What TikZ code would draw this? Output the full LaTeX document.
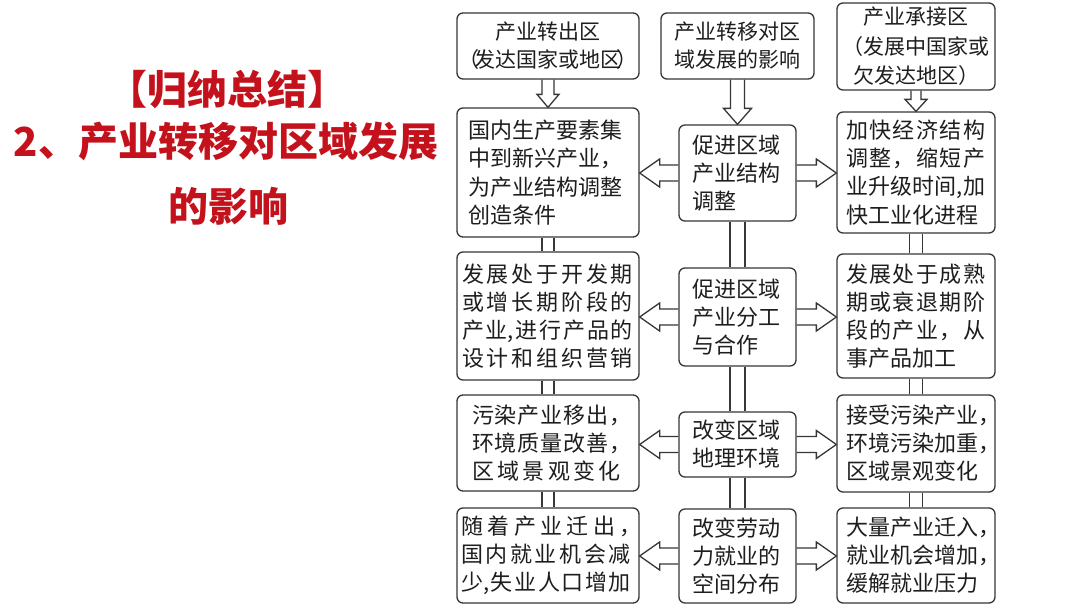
\documentclass[tikz,border=0pt]{standalone}
\usepackage{fontspec}
\setmainfont{Noto Sans CJK SC}
\usetikzlibrary{calc}
\definecolor{titlered}{RGB}{196,18,28}
\definecolor{linec}{RGB}{55,55,55}
\definecolor{textc}{RGB}{30,30,30}
\makeatletter
\newif\ifjl@first
\newcommand\jl[2]{\makebox[#1][l]{\jl@firsttrue\@tfor\jl@c:=#2\do{\ifjl@first\jl@firstfalse\else\hfill\fi\jl@c}}}
\makeatother
\newcommand\varr[5]{\draw[conn] ($(#1.south)+(-#3,0)$) -- ($(#2.north)+(-#3,-#5)$) -- ($(#2.north)+(-#4,-#5)$) -- (#2.north) -- ($(#2.north)+(#4,-#5)$) -- ($(#2.north)+(#3,-#5)$) -- ($(#1.south)+(#3,0)$);}
\newcommand\larr[2]{\coordinate (#1-#2-tip) at (#2.east |- #1.west);
\draw[conn] ($(#1.west)+(0,-8)$) -- ($(#1-#2-tip)+(20,-8)$) -- ($(#1-#2-tip)+(20,-14)$) -- (#1-#2-tip) -- ($(#1-#2-tip)+(20,14)$) -- ($(#1-#2-tip)+(20,8)$) -- ($(#1.west)+(0,8)$);}
\newcommand\rarr[2]{\coordinate (#1-#2-tip) at (#2.west |- #1.east);
\draw[conn] ($(#1.east)+(0,-8)$) -- ($(#1-#2-tip)+(-20,-8)$) -- ($(#1-#2-tip)+(-20,-14)$) -- (#1-#2-tip) -- ($(#1-#2-tip)+(-20,14)$) -- ($(#1-#2-tip)+(-20,8)$) -- ($(#1.east)+(0,8)$);}
\newcommand\dconn[3]{\draw[conn] ($(#1.south)+(-#3,0)$) -- ($(#2.north)+(-#3,0)$);
\draw[conn] ($(#1.south)+(#3,0)$) -- ($(#2.north)+(#3,0)$);}
\begin{document}
\begin{tikzpicture}[x=1pt,y=-1pt,
 box/.style={draw=linec, line width=1.3pt, rounded corners=6pt, inner sep=0pt, fill=white, text=textc, font=\fontsize{22}{28}\selectfont},
 tbox/.style={box, font=\fontsize{21}{28}\selectfont, align=center},
 conn/.style={draw=linec, line width=1.3pt, line join=miter},
 ttl/.style={text=titlered, font=\bfseries\fontsize{40}{48}\selectfont, inner sep=0pt}]
\useasboundingbox[fill=white] (0,0) rectangle (1080,608);
% title
\node[ttl] (t1) at (227,89) {【归纳总结】};
\node[ttl] (t2) at (226,141) {2、产业转移对区域发展};
\node[ttl] (t3) at (228,206) {的影响};
% top row
\node[tbox, minimum width=182, minimum height=66] (tl) at (548,46) {产业转出区\\（\kern-.25em发达国家或地区\kern-.25em）};
\node[tbox, minimum width=153, minimum height=66] (tm) at (737.5,46) {产业转移对区\\域发展的影响};
\node[tbox, minimum width=158, minimum height=87, font=\fontsize{21}{29.5}\selectfont] (tr) at (916,46.5) {产业承接区\\（发展中国家或\\欠发达地区）};
% row 2
\node[box, minimum width=182, minimum height=129, text width=160pt, align=left, font=\fontsize{22}{28.4}\selectfont] (l2) at (548,172.5) {\raisebox{-3pt}{国内生产要素集}\\\raisebox{-3pt}{中到新兴产业，}\\\raisebox{-3pt}{为产业结构调整}\\\raisebox{-3pt}{创造条件}};
\node[box, minimum width=117, minimum height=96, text width=91pt, align=left] (m2) at (737.5,173) {促进区域\\产业结构\\调整};
\node[box, minimum width=158, minimum height=121, text width=140pt, align=left, font=\fontsize{22}{28.2}\selectfont] (r2) at (916,172.5) {\jl{139pt}{加快经济结构}\\\jl{139pt}{调整，缩短产}\\\jl{139pt}{业升级时{间,}加}\\快工业化进程};
% row 3
\node[box, minimum width=182, minimum height=128, text width=172pt, align=left] (l3) at (548,316) {\jl{171pt}{发展处于开发期}\\\jl{171pt}{或增长期阶段的}\\\jl{171pt}{产{业,}进行产品的}\\\jl{171pt}{设计和组织营销}};
\node[box, minimum width=117, minimum height=98, text width=91pt, align=left] (m3) at (737.5,317) {促进区域\\产业分工\\与合作};
\node[box, minimum width=158, minimum height=124, text width=140pt, align=left] (r3) at (916,316) {\jl{139pt}{发展处于成熟}\\\jl{139pt}{期或衰退期阶}\\\jl{139pt}{段的产业，从}\\事产品加工};
% row 4
\node[box, minimum width=182, minimum height=96, text width=152pt, align=left] (l4) at (548,443) {\jl{149pt}{污染产业移出{，\kern-.5em}}\\\jl{149pt}{环境质量改善{，\kern-.5em}}\\\jl{149pt}{区域景观变化}};
\node[box, minimum width=117, minimum height=65, text width=91pt, align=left] (m4) at (737.5,444.5) {改变区域\\地理环境};
\node[box, minimum width=158, minimum height=97, text width=140pt, align=left] (r4) at (916,443.5) {接受污染产业，\\环境污染加重，\\区域景观变化};
% row 5
\node[box, minimum width=182, minimum height=95, text width=174pt, align=left] (l5) at (548,555.5) {\jl{170pt}{随着产业迁出{，\kern-.5em}}\\\jl{170pt}{国内就业机会减}\\\jl{170pt}{{少,}失业人口增加}};
\node[box, minimum width=117, minimum height=94, text width=91pt, align=left] (m5) at (737.5,556) {改变劳动\\力就业的\\空间分布};
\node[box, minimum width=158, minimum height=95, text width=140pt, align=left] (r5) at (916,555.5) {大量产业迁入，\\就业机会增加，\\缓解就业压力};
% vertical arrows from top boxes
\varr{tl}{l2}{6}{11}{13}
\varr{tm}{m2}{7}{14}{16}
\varr{tr}{r2}{5}{11}{12}
% vertical double connectors
\dconn{l2}{l3}{6}\dconn{l3}{l4}{6}\dconn{l4}{l5}{6}
\dconn{m2}{m3}{7.5}\dconn{m3}{m4}{7.5}\dconn{m4}{m5}{7.5}
\dconn{r2}{r3}{6.3}\dconn{r3}{r4}{6.3}\dconn{r4}{r5}{6.3}
% horizontal arrows
\larr{m2}{l2}\rarr{m2}{r2}
\larr{m3}{l3}\rarr{m3}{r3}
\larr{m4}{l4}\rarr{m4}{r4}
\larr{m5}{l5}\rarr{m5}{r5}
\end{tikzpicture}
\end{document}
